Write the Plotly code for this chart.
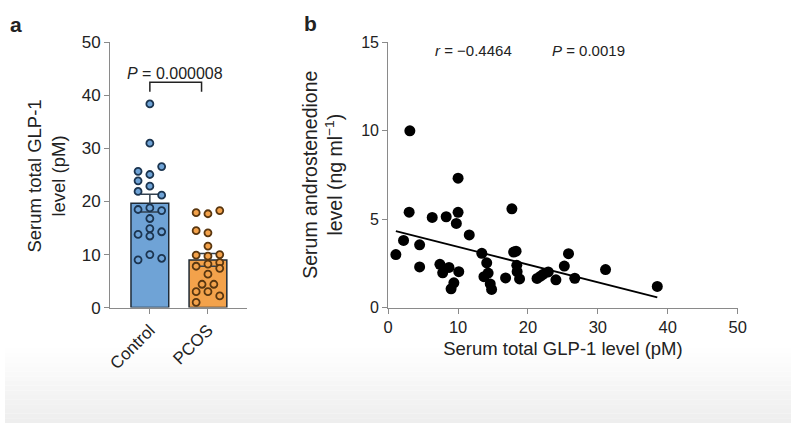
import numpy as np
import plotly.graph_objects as go

# ---------------- data ----------------
categories = ["Control", "PCOS"]
control_vals = [38.4, 31.0, 26.6, 25.7, 25.1, 23.9, 22.9, 21.9, 21.2, 18.5,
                18.8, 18.3, 16.8, 14.9, 13.8, 14.3, 13.5, 10.0, 9.0, 9.3]
control_lane = [0, 0, 1, -1, 0, -1, 0, -1, 1, -1, 0, 1, 0, 0, -1, 1, 0, 0, -1, 1]
pcos_vals = [17.9, 17.7, 18.3, 14.5, 14.1, 11.6, 9.9, 9.7, 10.0, 7.8,
             8.2, 8.5, 7.4, 6.3, 4.4, 4.4, 3.0, 3.0, 2.2, 1.0]
pcos_lane = [-1, 0, 1, -1, 0, 0, -1, 0, 1, -1, 0, 1, 1, 0, -0.5, 0.5, -1, 0, 1, -1]
p_text_a = "<i>P</i> = 0.000008"
bracket_x = [0, 0.89]
bracket_y = [40.7, 42.5]

glp1 = [1.1, 2.2, 3.1, 3.0, 4.5, 4.5, 6.3, 7.4, 7.8, 8.3, 8.7, 9.0, 9.4, 9.75,
        10.0, 10.0, 10.1, 11.6, 13.4, 14.1, 13.7, 14.3, 14.6, 14.8, 16.8, 17.7,
        17.95, 18.3, 18.4, 18.45, 18.8, 21.3, 21.8, 22.2, 22.9, 24.0, 25.2,
        25.8, 26.7, 31.1, 38.5]
andro = [3.0, 3.8, 10.0, 5.4, 3.55, 2.3, 5.1, 2.45, 1.97, 5.14, 2.27, 1.06, 1.4,
         4.76, 5.39, 7.32, 2.03, 4.11, 3.07, 2.53, 1.75, 1.95, 1.34, 1.03, 1.68,
         5.59, 3.14, 3.19, 2.39, 2.03, 1.62, 1.65, 1.78, 1.89, 2.02, 1.57, 2.35,
         3.05, 1.66, 2.15, 1.2]
fit_x = [1.1, 38.5]
fit_y = [4.33, 0.58]
r_text = "<i>r</i> = −0.4464"
p_text_b = "<i>P</i> = 0.0019"

# ---------------- styling ----------------
W, H = 800, 433
FONT = "Liberation Sans, Arial, sans-serif"
TXT = "#222222"
AX = "#8a8a8a"
BLUE, BLUE_D = "#6fa3d6", "#1c3550"
ORANGE, ORANGE_D = "#f3a24b", "#5a3710"
LANE = 0.203


def px(x):
    return x / W


def py(y):
    return 1 - y / H


means = [float(np.mean(control_vals)), float(np.mean(pcos_vals))]
sems = [float(np.std(control_vals, ddof=1) / np.sqrt(len(control_vals))),
        float(np.std(pcos_vals, ddof=1) / np.sqrt(len(pcos_vals)))]

fig = go.Figure()

# panel a bars
fig.add_trace(go.Bar(
    x=[0, 1], y=means, width=0.65,
    marker=dict(color=[BLUE, ORANGE], line=dict(color="#1e2a36", width=1.5)),
    error_y=dict(type="data", array=sems, visible=True, color="#33414f",
                 thickness=1.5, width=9),
    xaxis="x", yaxis="y", showlegend=False))

fig.add_trace(go.Scatter(
    x=[0 + l * LANE for l in control_lane], y=control_vals, mode="markers",
    marker=dict(size=7, color=BLUE, line=dict(color=BLUE_D, width=1.8)),
    xaxis="x", yaxis="y", showlegend=False))
fig.add_trace(go.Scatter(
    x=[1 + l * LANE for l in pcos_lane], y=pcos_vals, mode="markers",
    marker=dict(size=7, color=ORANGE, line=dict(color=ORANGE_D, width=1.8)),
    xaxis="x", yaxis="y", showlegend=False))

# bracket
fig.add_trace(go.Scatter(
    x=[bracket_x[0], bracket_x[0], bracket_x[1], bracket_x[1]],
    y=[bracket_y[0], bracket_y[1], bracket_y[1], bracket_y[0]],
    mode="lines", line=dict(color="#222", width=1.5),
    xaxis="x", yaxis="y", showlegend=False))

# panel b
fig.add_trace(go.Scatter(
    x=glp1, y=andro, mode="markers",
    marker=dict(size=11, color="black"),
    xaxis="x2", yaxis="y2", showlegend=False))
fig.add_trace(go.Scatter(
    x=fit_x, y=fit_y, mode="lines", line=dict(color="black", width=1.8),
    xaxis="x2", yaxis="y2", showlegend=False))


def axis_common(size):
    return dict(showline=True, linecolor=AX, linewidth=1, ticks="outside",
                ticklen=5, tickcolor=AX, showgrid=False, zeroline=False,
                tickfont=dict(family=FONT, size=size, color=TXT))


y0, y50 = 312.3, 35
fig.update_layout(
    width=W, height=H,
    margin=dict(l=0, r=0, t=0, b=0),
    paper_bgcolor="white", plot_bgcolor="rgba(0,0,0,0)",
    font=dict(family=FONT, color=TXT),
    xaxis=dict(domain=[px(107), px(246)], range=[-0.684, 1.667],
               tickvals=[0, 1], ticktext=categories, tickangle=-45,
               anchor="y", **axis_common(17)),
    yaxis=dict(domain=[py(y0), py(y50)], range=[0, 50], tickvals=[0, 10, 20, 30, 40, 50],
               anchor="x", **axis_common(17)),
    xaxis2=dict(domain=[px(390), px(745.7)], range=[0, 50],
                tickvals=[0, 10, 20, 30, 40, 50], anchor="y2",
                title=dict(text="Serum total GLP-1 level (pM)",
                           font=dict(family=FONT, size=18.5, color=TXT), standoff=6),
                **axis_common(16.5)),
    yaxis2=dict(domain=[py(y0), py(y50)], range=[0, 15], tickvals=[0, 5, 10, 15],
                anchor="x2", **axis_common(16)),
)

ann = [
    dict(text="<b>a</b>", x=px(11), y=py(16), font=dict(size=21)),
    dict(text="<b>b</b>", x=px(311), y=py(15), font=dict(size=21)),
    dict(text="Serum total GLP-1<br>level (pM)", x=px(42), y=py(175),
         textangle=-90, font=dict(size=18.5)),
    dict(text="Serum androstenedione<br>level (ng ml<sup>−1</sup>)", x=px(323),
         y=py(173), textangle=-90, font=dict(size=19.5)),
    dict(text=p_text_a, x=px(173.5), y=py(67.5), font=dict(size=16)),
    dict(text=r_text, x=px(476.5), y=py(43.5), font=dict(size=15)),
    dict(text=p_text_b, x=px(594), y=py(43.5), font=dict(size=15)),
]
for a in ann:
    a.update(xref="paper", yref="paper", showarrow=False,
             xanchor="center", yanchor="middle")
    a["font"].update(family=FONT, color=TXT)
fig.update_layout(annotations=ann)

# soft grey fade at bottom of the image (screenshot background)
shapes = []
n = 16
for i in range(n):
    t = (i + 1) / n
    g = int(round(255 - 17 * t))
    shapes.append(dict(type="rect", xref="paper", yref="paper", x0=0, x1=1,
                       y0=py(355 + i * 78 / n + 78 / n), y1=py(355 + i * 78 / n),
                       fillcolor=f"rgb({g},{g},{g})", line=dict(width=0),
                       layer="below"))
fig.update_layout(shapes=shapes)

fig.write_html(
    "out.html",
    config={"displayModeBar": False},
    post_script=("document.documentElement.style.overflow='hidden';"
                 "document.body.style.margin='0';"
                 "document.body.style.overflow='hidden';"),
)
